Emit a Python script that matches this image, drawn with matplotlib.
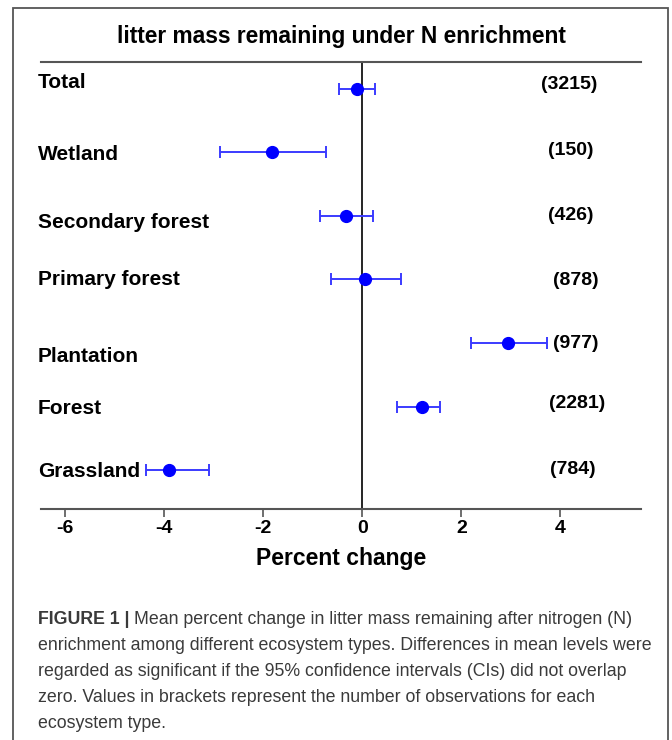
import matplotlib
matplotlib.use("Agg")
import matplotlib.pyplot as plt
from matplotlib.patches import Rectangle
from matplotlib.transforms import blended_transform_factory

# data
groups = ["Total", "Wetland", "Secondary forest", "Primary forest",
          "Plantation", "Forest", "Grassland"]
mean_change = [-0.11, -1.83, -0.32, 0.06, 2.94, 1.21, -3.90]
ci_low = [-0.48, -2.88, -0.85, -0.64, 2.20, 0.70, -4.37]
ci_high = [0.26, -0.74, 0.22, 0.78, 3.74, 1.56, -3.10]
n_obs = [3215, 150, 426, 878, 977, 2281, 784]
xticks = [-6, -4, -2, 0, 2, 4]

# label nudges (pixels) to follow the original layout
label_dy = [-6, 2, 7, 0, 13, 2, 1]
count_dy = [-4, -2, 0, 1, 0, -3, -1]
count_x = [569, 571, 571, 576, 576, 577, 573]

W, H = 672, 740
fig = plt.figure(figsize=(W / 100, H / 100), dpi=100)
plt.rcParams['font.family'] = ['Liberation Sans', 'DejaVu Sans']

def fx(px):
    return px / W

def fy(py):
    return 1 - py / H

# outer frame
fig.patches.append(Rectangle((fx(13), fy(745)), fx(668) - fx(13), fy(8) - fy(745),
                             transform=fig.transFigure, fill=False,
                             edgecolor="#555555", lw=1.3))

ax = fig.add_axes([fx(41), fy(509), fx(641) - fx(41), fy(62) - fy(509)])
ax.set_xlim(-6.49, 5.63)
rows = list(range(len(groups)))
ax.set_ylim(6.614, -0.425)

ax.errorbar(mean_change, rows,
            xerr=[[m - l for m, l in zip(mean_change, ci_low)],
                  [h - m for m, h in zip(mean_change, ci_high)]],
            fmt="none", ecolor="#3b3bff", elinewidth=1.4, capsize=4.5,
            capthick=1.4, zorder=3)
ax.plot(mean_change, rows, "o", color="#0000ff", ms=8.5, zorder=4)
ax.axvline(0, color="black", lw=1.2, zorder=2)

for s in ["left", "right"]:
    ax.spines[s].set_visible(False)
ax.spines["top"].set_color("#555555")
ax.spines["top"].set_linewidth(1.5)
ax.spines["bottom"].set_color("#555555")
ax.spines["bottom"].set_linewidth(1.5)
ax.set_yticks([])
ax.set_xticks(xticks)
ax.set_xticklabels([str(t) for t in xticks], fontweight="bold", fontsize=14)
ax.tick_params(axis="x", length=6, width=1.2, color="#555555", pad=2)
ax.set_xlabel("Percent change", fontweight="bold", fontsize=16.5, labelpad=7)

trans = blended_transform_factory(fig.transFigure, ax.transData)
for i, (g, n) in enumerate(zip(groups, n_obs)):
    ax.text(fx(38), i + label_dy[i] / 63.5, g, transform=trans,
            ha="left", va="center", fontsize=15, fontweight="bold")
    ax.text(fx(count_x[i]), i + count_dy[i] / 63.5, "(%d)" % n, transform=trans,
            ha="center", va="center", fontsize=14, fontweight="bold")

fig.text(fx(341), fy(37), "litter mass remaining under N enrichment",
         ha="center", va="center", fontsize=16.4, fontweight="bold")

# caption
cap_lines = [
    "Mean percent change in litter mass remaining after nitrogen (N)",
    "enrichment among different ecosystem types. Differences in mean levels were",
    "regarded as significant if the 95% confidence intervals (CIs) did not overlap",
    "zero. Values in brackets represent the number of observations for each",
    "ecosystem type.",
]
cap_y = [620, 646, 672, 698, 723]
cap_kw = dict(fontsize=12.75, color="#3a3a3a", va="center", ha="left")
head = fig.text(fx(38), fy(cap_y[0]), "FIGURE 1 | ", fontweight="bold", **cap_kw)
fig.canvas.draw()
bb = head.get_window_extent()
fig.text(bb.x1 / W, fy(cap_y[0]), cap_lines[0], **cap_kw)
for line, y in zip(cap_lines[1:], cap_y[1:]):
    fig.text(fx(38), fy(y), line, **cap_kw)

fig.savefig("out.png", dpi=100)
